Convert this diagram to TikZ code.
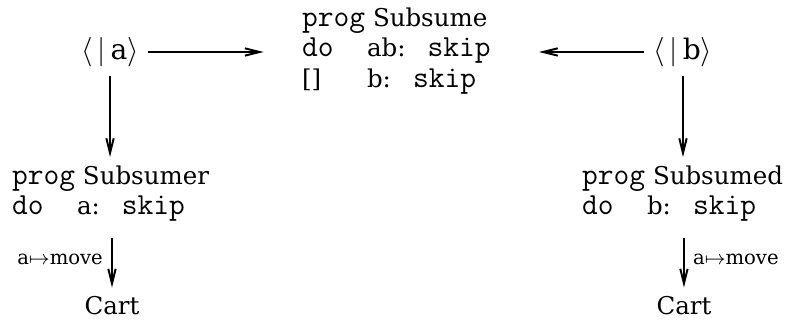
\documentclass[10pt,tikz,border=0pt]{standalone}
\usepackage{amsmath,amssymb}
\usepackage{fontspec}
\setmainfont{DejaVu Serif}
\setmonofont[Scale=1.25]{Latin Modern Mono}
\usepackage{tikz}
\usetikzlibrary{arrows.meta,calc}
\newcommand{\kwcol}[1]{\makebox[26.5pt][l]{#1}}
\newcommand{\skipst}{\hspace{9pt}\texttt{skip}}

\begin{document}
\begin{tikzpicture}[>={Straight Barb[length=6pt,width=3pt]},line join=round,thick,
  prog/.style={align=left,font=\fontsize{10}{12.3}\selectfont},
  lbl/.style={font=\fontsize{8}{9}\selectfont},
  ctx/.style={font=\fontsize{11.5}{14}\selectfont}]
  \useasboundingbox (0,0) rectangle (11.423,4.621);
  \node[ctx] (la) at (1.579,3.875) {$\langle\,|\,\mathrm{a}\rangle$};
  \node[ctx] (lb) at (9.801,3.875) {$\langle\,|\,\mathrm{b}\rangle$};
  \node[prog,anchor=west] (sub) at (4.205,3.889)
    {\texttt{prog} Subsume\\ \kwcol{\texttt{do}}ab:\skipst\\ \kwcol{[]}b:\skipst};
  \node[prog,anchor=north west] (subr) at (0.043,2.367)
    {\texttt{prog} Subsumer\\ \kwcol{\texttt{do}}a:\skipst};
  \node[prog,anchor=north west] (subd) at (8.223,2.367)
    {\texttt{prog} Subsumed\\ \kwcol{\texttt{do}}b:\skipst};
  \node (cl) at (1.607,0.230) {Cart};
  \node (cr) at (9.815,0.230) {Cart};
  \draw[->,shorten >=12pt] (la) -- (la -| sub.west);
  \draw[->,shorten >=16pt] (lb) -- (lb -| sub.east);
  \draw[->] (la) -- (la |- subr.north);
  \draw[->] (lb) -- (lb |- subd.north);
  \draw[->,shorten <=3pt] (cl |- subr.south) -- node[lbl,left] {$\mathrm{a}{\mapsto}\mathrm{move}$} (cl);
  \draw[->,shorten <=3pt] (cr |- subd.south) -- node[lbl,right] {$\mathrm{a}{\mapsto}\mathrm{move}$} (cr);
\end{tikzpicture}
\end{document}
